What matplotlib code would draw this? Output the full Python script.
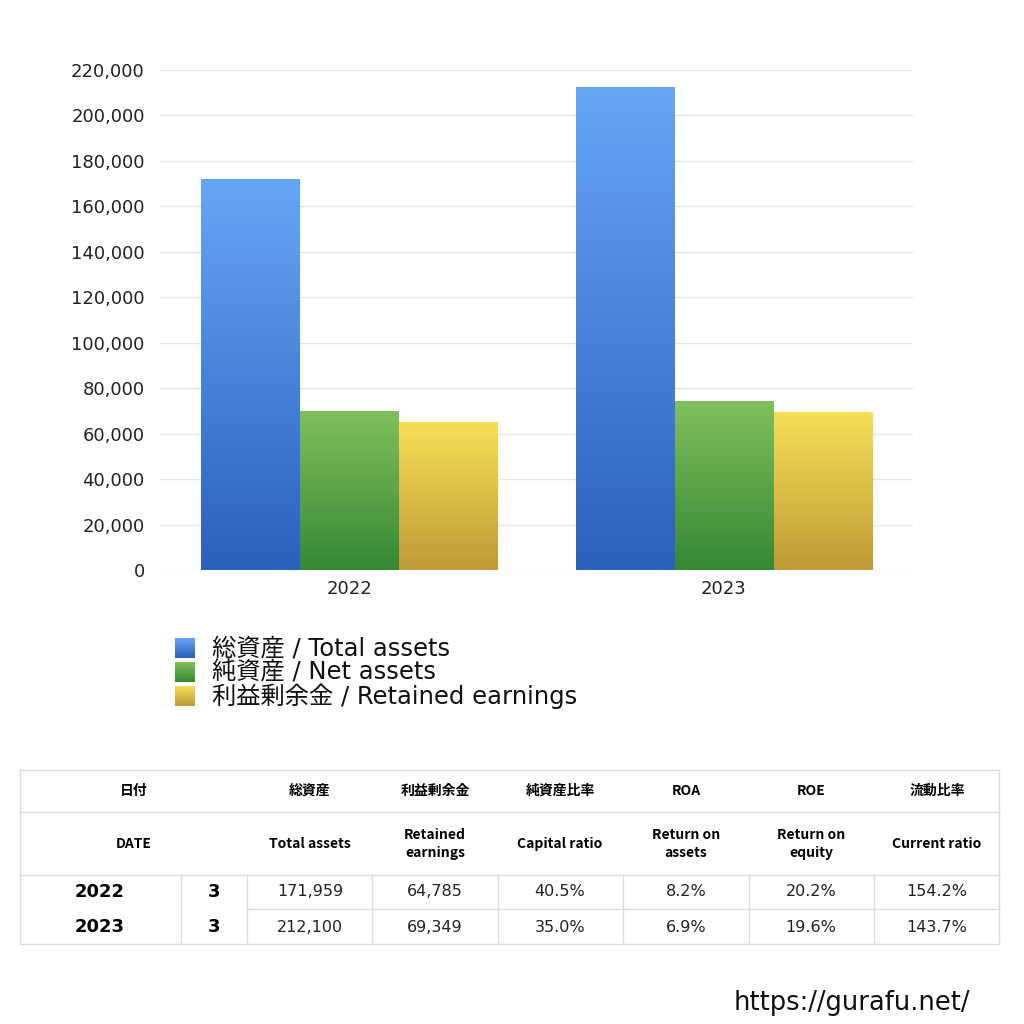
import matplotlib
matplotlib.use('Agg')
import numpy as np
import matplotlib.pyplot as plt
from matplotlib.colors import LinearSegmentedColormap
from matplotlib.lines import Line2D

plt.rcParams['font.family'] = ['DejaVu Sans', 'Noto Sans CJK JP']
JP = ['Noto Sans CJK JP', 'DejaVu Sans']

years = ['2022', '2023']
total_assets = [171959, 212100]
net_assets = [69643, 74235]
retained_earnings = [64785, 69349]
series_names = ['総資産 / Total assets', '純資産 / Net assets', '利益剰余金 / Retained earnings']

months = ['3', '3']
capital_ratio = ['40.5%', '35.0%']
roa = ['8.2%', '6.9%']
roe = ['20.2%', '19.6%']
current_ratio = ['154.2%', '143.7%']
head_jp = ['総資産', '利益剰余金', '純資産比率', 'ROA', 'ROE', '流動比率']
head_en = ['Total assets', 'Retained\nearnings', 'Capital ratio', 'Return on\nassets', 'Return on\nequity', 'Current ratio']

# gradient colours (top, bottom)
grads = [('#67a6f5', '#2b60bd'), ('#80c05c', '#368834'), ('#f6df57', '#bf9a36')]

W = 1024
fig = plt.figure(figsize=(10.24, 10.24), dpi=100)

def fx(px):
    return px / W

def fy(py):
    return 1 - py / W

ax = fig.add_axes([fx(160), fy(570), fx(913 - 160), (570 - 70) / W])

x = np.arange(len(years))
bw = 0.264
data = [total_assets, net_assets, retained_earnings]
for i, (vals, (ctop, cbot)) in enumerate(zip(data, grads)):
    cmap = LinearSegmentedColormap.from_list('g%d' % i, [cbot, ctop])
    bars = ax.bar(x + (i - 1) * bw, vals, bw, color='none', edgecolor='none', zorder=2)
    for b in bars:
        x0, y0 = b.get_x(), b.get_y()
        grad = np.linspace(0, 1, 256).reshape(-1, 1)
        ax.imshow(grad, extent=[x0, x0 + b.get_width(), y0, y0 + b.get_height()],
                  origin='lower', cmap=cmap, aspect='auto', zorder=2)

ax.set_xlim(-0.504, 1.504)
ax.set_ylim(0, 220000)
ax.set_yticks(np.arange(0, 220001, 20000))
ax.set_yticklabels(['{:,}'.format(v) for v in range(0, 220001, 20000)], fontsize=13)
ax.set_xticks(x)
ax.set_xticklabels(years, fontsize=13)
ax.tick_params(length=0, pad=11, colors='#222222')
ax.tick_params(axis='x', pad=7)
ax.grid(axis='y', color='#e6e6e6', lw=1, zorder=0)
ax.set_axisbelow(True)
for s in ax.spines.values():
    s.set_visible(False)

# legend
leg_y = [648, 672, 696]
for (ctop, cbot), name, ly in zip(grads, series_names, leg_y):
    lax = fig.add_axes([fx(175), fy(ly + 10), fx(20), 20 / W])
    cmap = LinearSegmentedColormap.from_list('l', [cbot, ctop])
    lax.imshow(np.linspace(0, 1, 64).reshape(-1, 1), origin='lower', cmap=cmap, aspect='auto')
    lax.axis('off')
    fig.text(fx(212), fy(ly), name, fontsize=17.5, va='center', ha='left', color='#111111')

# table
lc = '#dddddd'
def hline(y, x0=20, x1=999):
    fig.add_artist(Line2D([fx(x0), fx(x1)], [fy(y), fy(y)], color=lc, lw=1))

def vline(xp, y0, y1):
    fig.add_artist(Line2D([fx(xp), fx(xp)], [fy(y0), fy(y1)], color=lc, lw=1))

for yy in [770, 812, 875, 944]:
    hline(yy)
hline(909, 247)
vline(20, 770, 944)
vline(999, 770, 944)
for xp in [181, 247, 372, 498, 623, 749, 874]:
    vline(xp, 875, 944)

col_x = [310, 435, 560, 686, 811, 937]
fig.text(fx(134), fy(791), '日付', fontsize=10, weight='bold', ha='center', va='center', family=JP)
fig.text(fx(134), fy(844), 'DATE', fontsize=10, weight='bold', ha='center', va='center', family=JP)
for cx, hj, he in zip(col_x, head_jp, head_en):
    fig.text(fx(cx), fy(791), hj, fontsize=10, weight='bold', ha='center', va='center', family=JP)
    fig.text(fx(cx), fy(844), he, fontsize=10, weight='bold', ha='center', va='center',
             linespacing=1.4, family=JP)

row_y = [892, 927]
for i, ry in enumerate(row_y):
    fig.text(fx(100), fy(ry), years[i], fontsize=13, weight='bold', ha='center', va='center')
    fig.text(fx(214), fy(ry), months[i], fontsize=13, weight='bold', ha='center', va='center')
    vals = ['{:,}'.format(total_assets[i]), '{:,}'.format(retained_earnings[i]),
            capital_ratio[i], roa[i], roe[i], current_ratio[i]]
    for cx, v in zip(col_x, vals):
        fig.text(fx(cx), fy(ry), v, fontsize=11.5, ha='center', va='center', color='#222222')

fig.text(fx(970), fy(1003), 'https://gurafu.net/', fontsize=18.5,
         ha='right', va='center', color='#111111')

fig.savefig('out.png', dpi=100, facecolor='white')
